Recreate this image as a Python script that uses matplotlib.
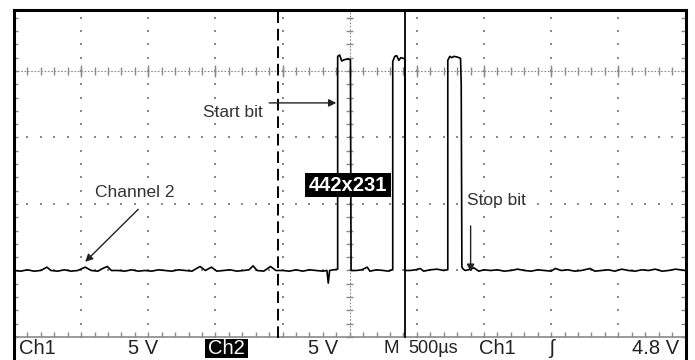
import numpy as np
import matplotlib
matplotlib.use("Agg")
import matplotlib.pyplot as plt
from matplotlib.patches import Rectangle

plt.rcParams['font.family'] = ['Liberation Sans', 'DejaVu Sans']

# ---------------- data (screen divisions) ----------------
trace_x = [0.00, 0.10, 0.20, 0.30, 0.40, 0.49, 0.55, 0.65, 0.75, 0.85, 0.95, 1.06, 1.15, 1.25, 1.32,
           1.39, 1.45, 1.55, 1.65, 1.75, 1.85, 1.95, 2.05, 2.15, 2.25, 2.35, 2.45, 2.55, 2.65, 2.77,
           2.85, 2.94, 3.02, 3.12, 3.22, 3.32, 3.42, 3.50, 3.56, 3.62, 3.72, 3.82, 3.90, 4.00, 4.10,
           4.20, 4.30, 4.40, 4.50, 4.60, 4.66, 4.68, 4.70, 4.76, 4.81,
           4.82, 4.82, 4.85, 4.88, 4.92, 4.97, 5.01, 5.02,
           5.10, 5.18, 5.26, 5.30, 5.40, 5.50, 5.58, 5.63,
           5.64, 5.64, 5.67, 5.70, 5.73, 5.76, 5.80, 5.82, 5.82,
           5.90, 5.98, 6.05, 6.10, 6.20, 6.30, 6.40, 6.45,
           6.46, 6.46, 6.49, 6.52, 6.55, 6.60, 6.65, 6.66, 6.67, 6.69, 6.72,
           6.80, 6.85, 6.92, 7.00, 7.10, 7.20, 7.30, 7.40, 7.50, 7.60, 7.70, 7.80, 7.90, 8.00,
           8.06, 8.15, 8.25, 8.35, 8.45, 8.58, 8.65, 8.75, 8.85, 8.95, 9.05, 9.15, 9.25, 9.35,
           9.45, 9.55, 9.65, 9.75, 9.85, 10.00]
trace_y = [1.00, 0.99, 1.01, 0.99, 1.00, 1.05, 1.00, 0.99, 1.01, 0.99, 1.00, 1.05, 1.00, 0.99, 1.03,
           1.06, 1.00, 1.00, 0.99, 1.01, 0.99, 1.00, 0.99, 1.01, 1.00, 0.99, 1.01, 1.00, 0.99, 1.06,
           1.00, 1.05, 0.99, 1.00, 1.01, 0.99, 1.00, 1.01, 1.07, 1.00, 0.99, 1.06, 1.00, 1.00, 0.99,
           1.01, 0.99, 1.01, 1.00, 0.99, 1.00, 0.81, 1.00, 1.01, 1.02,
           1.02, 4.22, 4.24, 4.15, 4.17, 4.18, 4.17, 1.00,
           1.00, 1.01, 1.05, 0.99, 1.01, 1.00, 0.99, 1.01,
           1.01, 4.14, 4.22, 4.23, 4.16, 4.20, 4.19, 4.18, 1.00,
           1.00, 1.01, 1.03, 0.99, 1.01, 1.02, 1.00, 1.01,
           1.01, 4.16, 4.22, 4.20, 4.22, 4.21, 4.19, 3.80, 1.05, 1.02, 1.00,
           1.02, 1.04, 0.99, 1.01, 1.00, 1.01, 0.99, 1.00, 1.02, 1.00, 0.99, 1.01, 1.00, 0.99,
           1.03, 1.00, 1.01, 0.99, 1.00, 1.03, 0.99, 1.00, 1.01, 0.99, 1.02, 1.00, 0.99, 1.01,
           1.00, 1.02, 0.99, 1.00, 1.02, 1.00]

trigger_x = 3.93          # dashed trigger position
cursor_x = 5.82           # solid cursor line

readout_labels = ["Ch1", "5 V", "Ch2", "5 V", "M", "500µs", "Ch1", "ʃ", "4.8 V"]
readout_x = [0.07, 2.15, 3.17, 4.83, 5.50, 5.87, 6.92, 8.00, 9.90]
readout_ha = ["left", "right", "center", "right", "left", "left", "left", "center", "right"]
readout_size = [14.5, 14.5, 14.5, 14.5, 13.5, 13, 14.5, 14.5, 14.5]

notes = ["Start bit", "Channel 2", "Stop bit"]
note_xy = [(3.71, 3.37), (1.21, 2.17), (6.75, 2.05)]
note_ha = ["right", "left", "left"]
arrow_from = [(3.80, 3.52), (1.85, 1.92), (6.80, 1.67)]
arrow_to = [(4.80, 3.52), (1.06, 1.13), (6.80, 0.98)]

size_label = "442x231"

# ---------------- figure ----------------
W, H = 695, 360
fig = plt.figure(figsize=(W / 100, H / 100), dpi=100)
ax = fig.add_axes([14 / W, 0, (685.5 - 14) / W, 350 / H])
ax.set_xlim(0, 10)
ax.set_ylim(-0.346, 4.917)
ax.set_xticks([]); ax.set_yticks([])
for s in ['left', 'right', 'top']:
    ax.spines[s].set_linewidth(2.2)
    ax.spines[s].set_color('black')
ax.spines['bottom'].set_visible(False)

gcol = '#8a8a8a'
minor = np.arange(0, 10.01, 0.2)
yminor = np.arange(0, 4.92, 0.2)
# dotted graticule
for gx in [1, 2, 3, 4, 6, 7, 8, 9]:
    ax.plot(np.full_like(yminor, gx), yminor, ls='none', marker='s', ms=1.5, color=gcol, mew=0)
for gy in [1, 2, 3]:
    ax.plot(minor, np.full_like(minor, gy), ls='none', marker='s', ms=1.5, color=gcol, mew=0)
# center axes with ticks
ax.plot([0, 10], [4, 4], color=gcol, lw=0.8, ls=(0, (1.5, 1.5)))
ax.vlines(minor, 4 - 0.055, 4 + 0.055, color=gcol, lw=1.0)
ax.vlines(np.arange(0, 10.01, 1.0), 4 - 0.09, 4 + 0.09, color=gcol, lw=1.0)
ax.plot([5, 5], [0, 4.92], color=gcol, lw=0.8, ls=(0, (1.5, 1.5)))
ax.hlines(yminor, 5 - 0.055, 5 + 0.055, color=gcol, lw=1.0)
# edge ticks
ax.hlines(yminor, 0, 0.06, color=gcol, lw=1.0)
ax.hlines(yminor, 9.94, 10, color=gcol, lw=1.0)
ax.plot([0, 10], [0, 0], color=gcol, lw=1.2)
ax.vlines(minor, 0, 0.08, color=gcol, lw=1.0)

# trigger dashed line and cursor
ax.plot([trigger_x, trigger_x], [-0.02, 4.92], color='black', lw=1.4, ls=(0, (6, 3)))
ax.plot([cursor_x, cursor_x], [0.0, 4.92], color='black', lw=1.3)

# trace
ax.plot(trace_x, trace_y, color='black', lw=1.2, solid_joinstyle='round')

# size label box
ax.add_patch(Rectangle((4.34, 2.105), 1.28, 0.36, facecolor='black', edgecolor='none', zorder=5))
ax.text(4.98, 2.285, size_label, color='white', fontsize=14.5, fontweight='bold',
        ha='center', va='center', zorder=6)

# annotations
for t, (tx, ty), ha in zip(notes, note_xy, note_ha):
    ax.text(tx, ty, t, fontsize=12.5, color='#333333', ha=ha, va='center')
for a, b in zip(arrow_from, arrow_to):
    ax.annotate('', xy=b, xytext=a,
                arrowprops=dict(arrowstyle='-|>', color='#222222', lw=1.0,
                                mutation_scale=11, shrinkA=0, shrinkB=0))

# readout row
ax.add_patch(Rectangle((2.85, -0.32), 0.64, 0.29, facecolor='black', edgecolor='none', zorder=5))
for lab, x, ha, fs in zip(readout_labels, readout_x, readout_ha, readout_size):
    col = 'white' if lab == "Ch2" else '#222222'
    ax.text(x, -0.175, lab, fontsize=fs, color=col, ha=ha, va='center', zorder=6)

fig.savefig('out.png', dpi=100)
